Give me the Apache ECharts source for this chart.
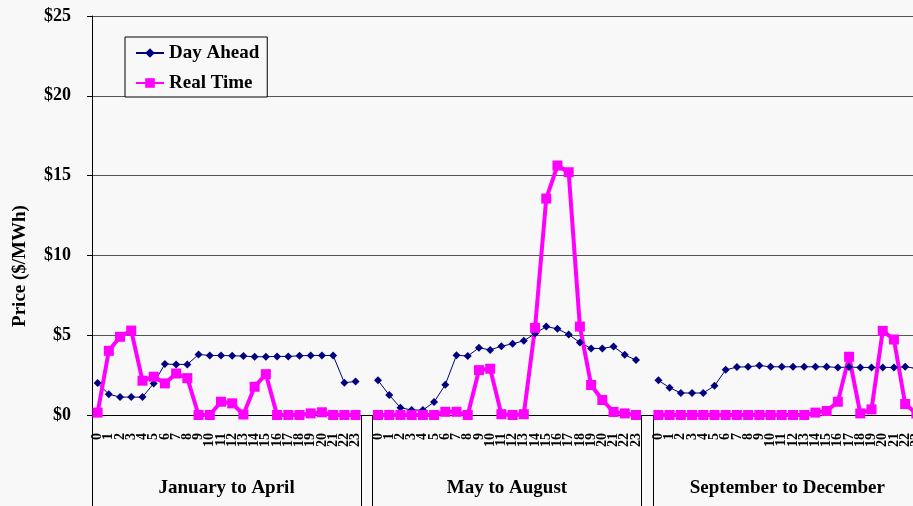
<!DOCTYPE html>
<html>
<head>
<meta charset="utf-8">
<script src="https://cdn.jsdelivr.net/npm/echarts@6/dist/echarts.min.js"></script>
<style>
  html, body { margin: 0; padding: 0; background: #f8f8f8; }
  #chart { width: 913px; height: 506px; }
</style>
</head>
<body>
<div id="chart"></div>
<script>
// Hour-of-day labels and period names
const hourLabels = ['0','1','2','3','4','5','6','7','8','9','10','11','12','13','14','15','16','17','18','19','20','21','22','23'];
const periodNames = ['January to April', 'May to August', 'September to December'];

// Average hourly prices ($/MWh), Day Ahead market
const daJanApr = [2.0, 1.3, 1.12, 1.12, 1.12, 1.98, 3.19, 3.17, 3.17, 3.79, 3.73, 3.73, 3.71, 3.69, 3.65, 3.65, 3.67, 3.67, 3.71, 3.73, 3.73, 3.73, 2.02, 2.1];
const daMayAug = [2.17, 1.25, 0.46, 0.31, 0.31, 0.81, 1.9, 3.75, 3.69, 4.21, 4.08, 4.31, 4.46, 4.65, 5.1, 5.54, 5.4, 5.04, 4.54, 4.17, 4.17, 4.29, 3.77, 3.44];
const daSepDec = [2.17, 1.71, 1.38, 1.38, 1.38, 1.83, 2.83, 3.0, 3.02, 3.1, 3.02, 3.02, 3.02, 3.02, 3.02, 3.02, 2.98, 3.0, 2.98, 2.98, 2.98, 2.98, 3.02, 2.92];

// Average hourly prices ($/MWh), Real Time market
const rtJanApr = [0.15, 4.02, 4.9, 5.29, 2.15, 2.4, 1.98, 2.6, 2.31, 0.0, 0.0, 0.83, 0.73, 0.03, 1.77, 2.56, 0.0, 0.0, 0.0, 0.1, 0.17, 0.0, 0.0, 0.0];
const rtMayAug = [0.0, 0.0, 0.0, 0.0, 0.0, 0.0, 0.2, 0.2, 0.0, 2.81, 2.9, 0.05, 0.0, 0.05, 5.46, 13.56, 15.63, 15.21, 5.54, 1.88, 0.94, 0.19, 0.1, 0.0];
const rtSepDec = [0.0, 0.0, 0.0, 0.0, 0.0, 0.0, 0.0, 0.0, 0.0, 0.0, 0.0, 0.0, 0.0, 0.0, 0.15, 0.25, 0.83, 3.65, 0.1, 0.35, 5.27, 4.73, 0.69, 0.1];

// Price axis ticks
const priceTicks = [0, 5, 10, 15, 20, 25];

// Three 24-hour blocks separated by one empty slot
function joinPeriods(a, b, c, gap) {
  return a.concat([gap], b, [gap], c);
}
const categories = joinPeriods(hourLabels, hourLabels, hourLabels, '');
const dayAhead = joinPeriods(daJanApr, daMayAug, daSepDec, null);
const realTime = joinPeriods(rtJanApr, rtMayAug, rtSepDec, null);

// Period boundaries and centres, in slot units
const n = hourLabels.length;
const periodEdges = [0, n, n + 1, 2 * n + 1, 2 * n + 2, 3 * n + 2];
const periodCentres = [n / 2, n + 1 + n / 2, 2 * n + 2 + n / 2];

const serif = "'Times New Roman', 'Liberation Serif', serif";
const chart = echarts.init(document.getElementById('chart'));

chart.setOption({
  animation: false,
  backgroundColor: '#f8f8f8',
  textStyle: { fontFamily: serif },
  grid: {
    left: 92, top: 16, height: 399,
    width: categories.length * 11.216,
    containLabel: false,
    outerBoundsMode: 'none'
  },
  legend: {
    orient: 'vertical',
    left: 125,
    top: 37,
    padding: [6, 8, 4, 10],
    itemGap: 10,
    itemWidth: 28,
    itemHeight: 12,
    itemTextGap: 3,
    borderColor: '#000',
    borderWidth: 1,
    backgroundColor: '#f8f8f8',
    textStyle: { fontFamily: serif, fontSize: 19, fontWeight: 'bold', color: '#000', lineHeight: 20 },
    data: ['Day Ahead', 'Real Time']
  },
  graphic: [{
    type: 'text',
    x: 20,
    y: 266,
    rotation: Math.PI / 2,
    style: {
      text: 'Price ($/MWh)',
      fontFamily: serif,
      fontSize: 19,
      fontWeight: 'bold',
      fill: '#000',
      align: 'center',
      verticalAlign: 'middle'
    }
  }],
  xAxis: [{
    type: 'category',
    data: categories,
    boundaryGap: true,
    axisLine: { lineStyle: { color: '#000', width: 1 } },
    axisTick: { interval: 0, length: 45, lineStyle: { color: '#000', width: 1 } },
    axisLabel: {
      interval: 0,
      rotate: 90,
      margin: 18,
      fontFamily: serif,
      fontSize: 14,
      fontWeight: 'bold',
      color: '#000'
    },
    splitLine: { show: false }
  }, {
    type: 'value',
    position: 'bottom',
    offset: 0,
    min: 0,
    max: categories.length,
    axisLine: { show: false },
    axisTick: { show: true, customValues: periodEdges, length: 91, lineStyle: { color: '#000', width: 1 } },
    axisLabel: {
      customValues: periodCentres,
      margin: 64,
      fontFamily: serif,
      fontSize: 19,
      fontWeight: 'bold',
      color: '#000',
      formatter: function (v) {
        const i = periodCentres.indexOf(v);
        return i >= 0 ? periodNames[i] : '';
      }
    },
    splitLine: { show: false }
  }],
  yAxis: {
    type: 'value',
    min: priceTicks[0],
    max: priceTicks[priceTicks.length - 1],
    interval: 5,
    axisLine: { show: true, lineStyle: { color: '#000', width: 1 } },
    axisTick: { show: true, length: 5, lineStyle: { color: '#000' } },
    axisLabel: {
      margin: 21,
      fontFamily: serif,
      fontSize: 18,
      fontWeight: 'bold',
      color: '#000',
      formatter: function (v) { return '$' + v; }
    },
    splitLine: { show: true, lineStyle: { color: '#555', width: 1 } }
  },
  series: [{
    name: 'Day Ahead',
    type: 'line',
    data: dayAhead,
    xAxisIndex: 0,
    connectNulls: false,
    symbol: 'diamond',
    symbolSize: 8,
    showAllSymbol: true,
    lineStyle: { color: '#000080', width: 1 },
    itemStyle: { color: '#000080' }
  }, {
    name: 'Real Time',
    type: 'line',
    data: realTime,
    xAxisIndex: 0,
    connectNulls: false,
    symbol: 'rect',
    symbolSize: 10,
    showAllSymbol: true,
    lineStyle: { color: '#ff00ff', width: 4 },
    itemStyle: { color: '#ff00ff' }
  }]
});
</script>
</body>
</html>
